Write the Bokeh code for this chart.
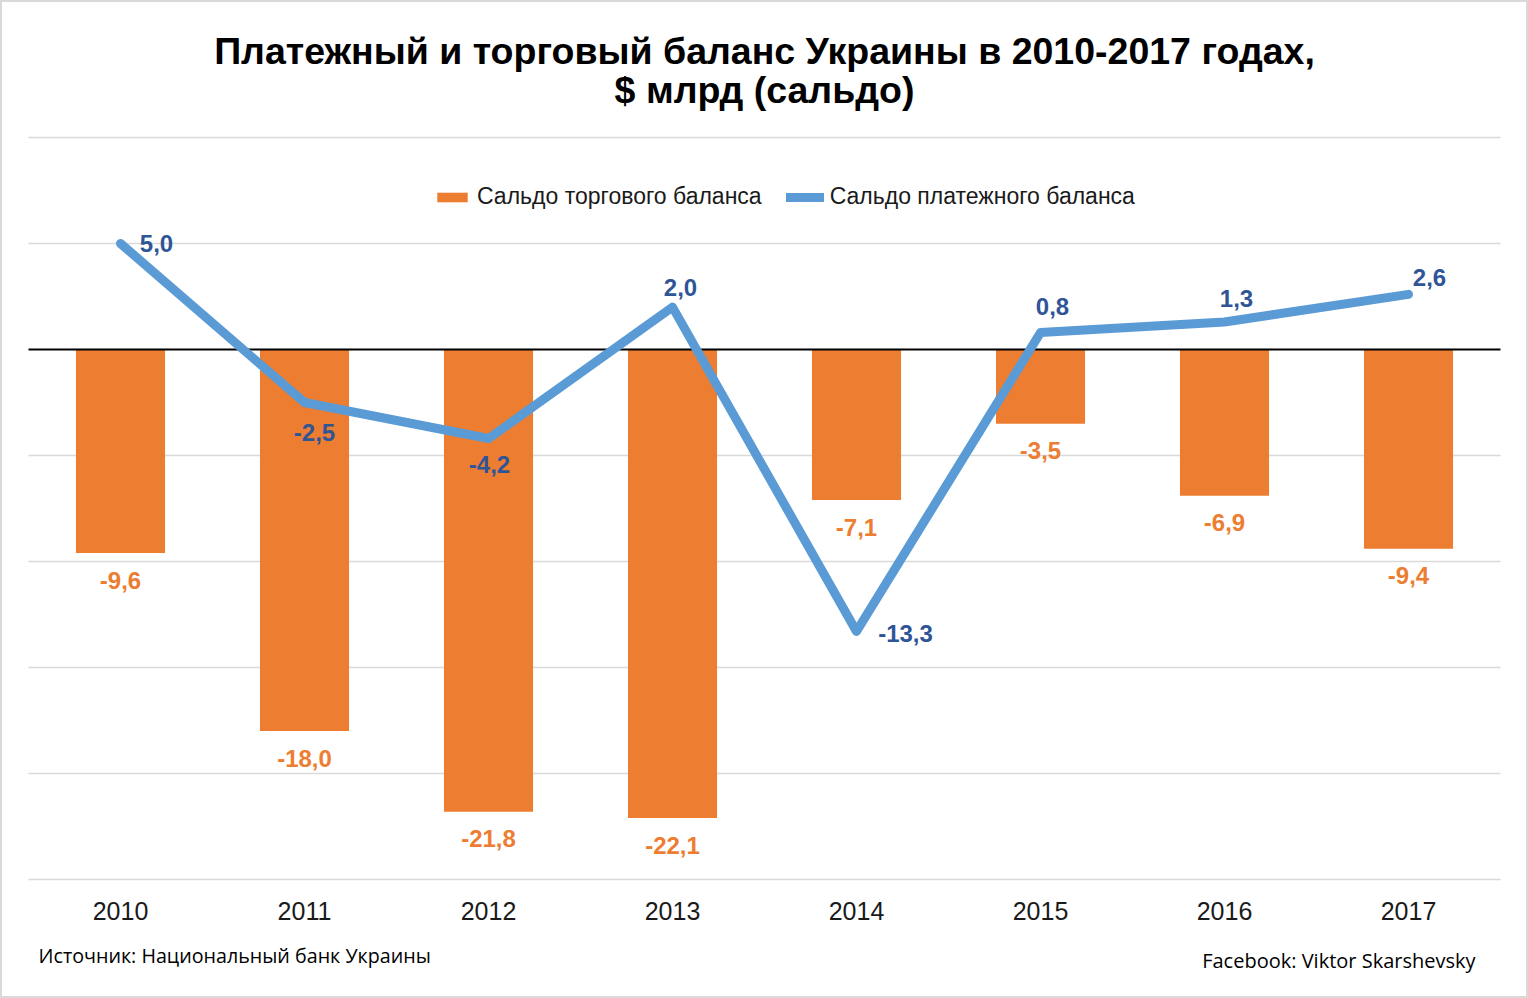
from bokeh.plotting import figure
from bokeh.models import Range1d, ColumnDataSource, Legend, LegendItem, Label
from bokeh.core.properties import value
from bokeh.embed import file_html
from bokeh.resources import INLINE

years = ["2010", "2011", "2012", "2013", "2014", "2015", "2016", "2017"]
trade_balance = [-9.6, -18.0, -21.8, -22.1, -7.1, -3.5, -6.9, -9.4]
payment_balance = [5.0, -2.5, -4.2, 2.0, -13.3, 0.8, 1.3, 2.6]
grid_values = [10, 5, -5, -10, -15, -20, -25]

title_line1 = "Платежный и торговый баланс Украины в 2010-2017 годах,"
title_line2 = "$ млрд (сальдо)"
legend_trade = "Сальдо торгового баланса"
legend_payment = "Сальдо платежного баланса"
source_text = "Источник: Национальный банк Украины"
author_text = "Facebook: Viktor Skarshevsky"

# layout (pixels)
W, H = 1528, 998
PX_X = 184.0      # px per category
PX_Y = 21.2       # px per unit
X0 = 120.0        # px of first category
Y0 = 349.0        # px (from top) of zero

def fmt(v):
    return ("%.1f" % v).replace(".", ",")

xs = list(range(len(years)))

p = figure(width=W, height=H, output_backend="svg", toolbar_location=None,
           x_range=Range1d(-X0 / PX_X, (W - X0) / PX_X),
           y_range=Range1d(-(H - Y0) / PX_Y, Y0 / PX_Y),
           x_axis_type=None, y_axis_type=None, min_border=0)
p.grid.visible = False
p.outline_line_color = "#d9d9d9"
p.outline_line_width = 3
p.background_fill_color = "white"
p.border_fill_color = "white"

# gridlines
p.segment(x0=[-0.5] * len(grid_values), x1=[len(years) - 0.5] * len(grid_values),
          y0=grid_values, y1=grid_values, line_color="#d9d9d9", line_width=1.5)

# bars
bar_src = ColumnDataSource(dict(x=xs, top=trade_balance,
                                lab=[fmt(v) for v in trade_balance],
                                ly=[v - 27 / PX_Y for v in trade_balance]))
bars = p.vbar(x="x", top="top", bottom=0, width=0.484, source=bar_src,
              fill_color="#ed7d31", line_color=None)

# zero line
p.segment(x0=[-0.5], x1=[len(years) - 0.5], y0=[0], y1=[0],
          line_color="#000000", line_width=1.8)

# line
line_dx = [36, 10, 1, 8, 49, 12, 12, 21]
line_dy = [0, 30, 26, -20, 2, -26, -23, -17]
line_src = ColumnDataSource(dict(x=xs, y=payment_balance,
                                 lab=[fmt(v) for v in payment_balance],
                                 lx=[x + dx / PX_X for x, dx in zip(xs, line_dx)],
                                 ly=[y - dy / PX_Y for y, dy in zip(payment_balance, line_dy)]))
line = p.line(x="x", y="y", source=line_src, line_color="#5b9bd5", line_width=9,
              line_join="round", line_cap="round")

# data labels
p.text(x="x", y="ly", text="lab", source=bar_src, text_align="center",
       text_baseline="middle", text_font=value("Liberation Sans"),
       text_font_style="bold", text_font_size="24px", text_color="#ed7d31")
p.text(x="lx", y="ly", text="lab", source=line_src, text_align="center",
       text_baseline="middle", text_font=value("Liberation Sans"),
       text_font_style="bold", text_font_size="24px", text_color="#2f5597")

# category labels
p.text(x=xs, y=[-(910 - Y0) / PX_Y] * len(years), text=years, text_align="center",
       text_baseline="middle", text_font=value("Liberation Sans"),
       text_font_size="25px", text_color="#1a1a1a")

# title
for txt, ypx in [(title_line1, 50), (title_line2, 89)]:
    p.add_layout(Label(x=(764 - X0) / PX_X, y=(Y0 - ypx) / PX_Y, text=txt,
                       text_align="center", text_baseline="middle",
                       text_font="Liberation Sans", text_font_style="bold",
                       text_font_size="37.5px", text_color="#000000"))

# source & author
p.add_layout(Label(x=(38 - X0) / PX_X, y=(Y0 - 955) / PX_Y, text=source_text,
                   text_align="left", text_baseline="middle", text_font="Open Sans",
                   text_font_size="19.7px", text_color="#000000"))
p.add_layout(Label(x=(1475 - X0) / PX_X, y=(Y0 - 960) / PX_Y, text=author_text,
                   text_align="right", text_baseline="middle", text_font="Open Sans",
                   text_font_size="20px", text_color="#000000"))

legend = Legend(items=[LegendItem(label=legend_trade, renderers=[bars]),
                       LegendItem(label=legend_payment, renderers=[line])],
                orientation="horizontal", location=(433, H - 210),
                glyph_width=38, glyph_height=12, label_standoff=6, spacing=24,
                label_text_font="Liberation Sans", label_text_font_size="23px",
                label_text_color="#1a1a1a", border_line_color=None,
                background_fill_alpha=0, padding=0, margin=0)
p.add_layout(legend, "center")

open("out.html", "w").write(file_html(p, INLINE))
